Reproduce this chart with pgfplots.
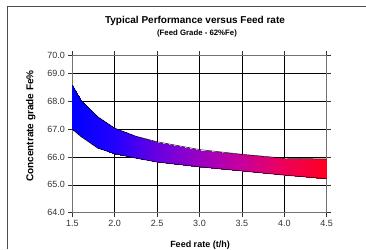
\documentclass[border=0pt]{standalone}
\usepackage{fontspec}
\setmainfont{Liberation Sans}
\usepackage{pgfplots}
\usepackage{pgfplotstable}
\pgfplotsset{compat=1.18}
\pgfplotstableread{
x y
1.5 68.60
1.6 68.05
1.8 67.45
2.0 67.04
2.25 66.75
2.5 66.55
3.0 66.27
3.5 66.10
4.0 65.96
4.5 65.93
}\uppertab
\pgfplotstableread{
x y
1.5 67.00
1.6 66.74
1.8 66.32
2.0 66.12
2.25 65.96
2.5 65.82
3.0 65.65
3.5 65.50
4.0 65.35
4.5 65.22
}\lowertab
\pgfplotstableread{
x y
1.5 68.60
1.6 68.05
1.8 67.45
2.0 67.04
2.25 66.75
2.5 66.55
3.0 66.27
3.5 66.10
4.0 65.96
4.5 65.93
1.5 67.00
1.6 66.74
1.8 66.32
2.0 66.12
2.25 65.96
2.5 65.82
3.0 65.65
3.5 65.50
4.0 65.35
4.5 65.22
}\bandtab
\begin{document}
\begin{tikzpicture}[x=1pt,y=1pt]
\useasboundingbox (0,0) rectangle (366,249);
\draw[black!70, line width=0.9pt] (7,0) -- (7,243) -- (366,243);
\begin{axis}[
  at={(72.3pt,36.3pt)}, anchor=south west,
  scale only axis, width=254.4pt, height=157.7pt,
  xmin=1.5, xmax=4.5, ymin=64, ymax=69.67,
  xtick={1.5,2.0,2.5,3.0,3.5,4.0,4.5},
  xticklabels={1.5,2.0,2.5,3.0,3.5,4.0,4.5},
  ytick={64,65,66,67,68,69,69.67},
  yticklabels={64.0,65.0,66.0,67.0,68.0,69.0,70.0},
  grid=major,
  major grid style={black, line width=0.6pt},
  axis line style={black!55, line width=0.9pt},
  tick style={black!80, line width=0.6pt},
  tick align=outside, major tick length=4pt,
  ticklabel style={font=\fontsize{9}{10}\selectfont, text=black!80},
  /pgf/number format/assume math mode=true,
  colormap={br}{rgb255=(0,0,255) rgb255=(35,0,255) rgb255=(105,0,225) rgb255=(155,0,195) rgb255=(200,0,155) rgb255=(238,0,90) rgb255=(255,0,30)},
]
\addplot[surf, shader=interp, mesh/rows=2, mesh/cols=10, point meta=x] table[x=x,y=y] {\bandtab};
\addplot[black, line width=0.5pt] table[x=x,y=y] {\uppertab};
\addplot[black, line width=0.5pt] table[x=x,y=y] {\lowertab};
\end{axis}
\node[anchor=base, font=\bfseries\fontsize{10}{12}\selectfont] at (195,225) {Typical Performance versus Feed rate};
\node[anchor=base, font=\bfseries\fontsize{7.8}{9}\selectfont] at (197,213) {(Feed Grade - 62\%Fe)};
\node[rotate=90, font=\bfseries\fontsize{10}{12}\selectfont] at (30.7,123) {Concentrate grade Fe\%};
\node[anchor=base, font=\bfseries\fontsize{9}{11}\selectfont] at (200,1.5) {Feed rate (t/h)};
\end{tikzpicture}
\end{document}
